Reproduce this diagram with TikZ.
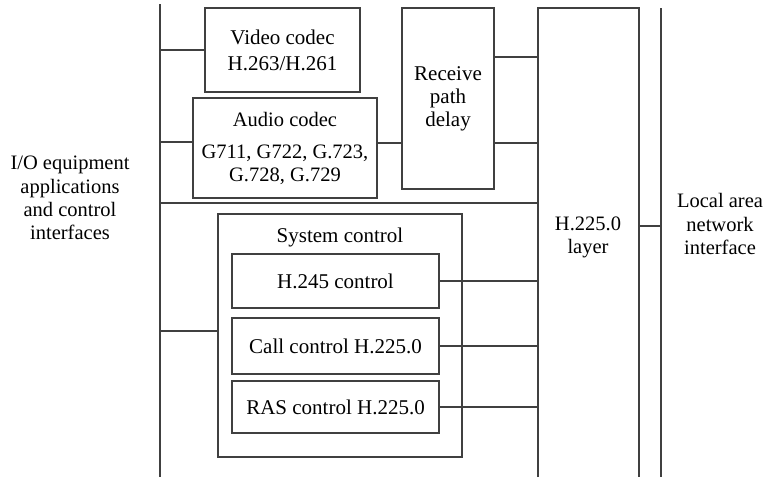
\documentclass[tikz,border=0pt]{standalone}
\usepackage{fontspec}
\setmainfont{Liberation Serif}
\begin{document}
\begin{tikzpicture}[x=1pt,y=-1pt,
  line width=1.4pt, draw=black!75,
  box/.style={draw, rectangle, inner sep=0pt, align=center,
    font=\fontsize{21}{23}\selectfont},
  lbl/.style={align=center, inner sep=0pt,
    font=\fontsize{20.5}{23.2}\selectfont},
  wire/.style={draw=black!75, line width=1.4pt}]
\useasboundingbox (0,0) rectangle (765,477);

% I/O bus on the left and LAN bus on the right
\coordinate (iotop) at (160,4);
\coordinate (iobot) at (160,477);
\coordinate (lantop) at (661,8);
\coordinate (lanbot) at (661,477);
\draw[wire] (iotop) -- (iobot);
\draw[wire] (lantop) -- (lanbot);

% H.225.0 layer (open at the bottom)
\coordinate (hlbl) at (538,477);
\coordinate (hltl) at (538,8);
\coordinate (hltr) at (639,8);
\coordinate (hlbr) at (639,477);
\draw[wire] (hlbl) -- (hltl) -- (hltr) -- (hlbr);
\node[lbl] (h225) at (588,237) {H.225.0\\layer};

% side labels
\node[lbl] (io) at (70,198) {I/O equipment\\applications\\and control\\interfaces};
\node[lbl] (lan) at (720,224) {Local area\\network\\interface};

% media codecs and receive path
\node[box, minimum width=155, minimum height=84] (video) at (282.5,50)
  {Video codec\\[3pt]H.263/H.261};
\node[box, minimum width=184, minimum height=100, font=\fontsize{20.5}{23}\selectfont]
  (audio) at (285,148)
  {Audio codec\\[9pt]G711, G722, G.723,\\G.728, G.729};
\node[box, minimum width=92, minimum height=181] (recv) at (448,98.5)
  {Receive\\path\\delay};

% system control group
\node[box, minimum width=244, minimum height=243] (sys) at (340,335.5) {};
\node[lbl, anchor=base, font=\fontsize{21}{23}\selectfont] (systitle) at (340,242) {System control};
\node[box, minimum width=207, minimum height=54] (h245) at (335.5,281) {H.245 control};
\node[box, minimum width=207, minimum height=56] (call) at (335.5,346) {Call control H.225.0};
\node[box, minimum width=207, minimum height=52] (ras) at (335.5,407) {RAS control H.225.0};

% connections to the I/O bus
\draw[wire] (video.west) -- (video.west -| iotop);
\draw[wire] (audio.west |- 0,142) -- (iotop |- 0,142);
\draw[wire] (sys.west |- 0,331) -- (iotop |- 0,331);
\draw[wire] (iotop |- 0,203) -- (hltl |- 0,203);

% connections to the H.225.0 layer
\draw[wire] (audio.east |- 0,143) -- (recv.west |- 0,143);
\draw[wire] (recv.east |- 0,57) -- (hltl |- 0,57);
\draw[wire] (recv.east |- 0,143) -- (hltl |- 0,143);
\draw[wire] (h245.east) -- (h245.east -| hltl);
\draw[wire] (call.east) -- (call.east -| hltl);
\draw[wire] (ras.east) -- (ras.east -| hltl);

% H.225.0 layer to the LAN bus
\draw[wire] (hltr |- 0,226) -- (lantop |- 0,226);
\end{tikzpicture}
\end{document}
